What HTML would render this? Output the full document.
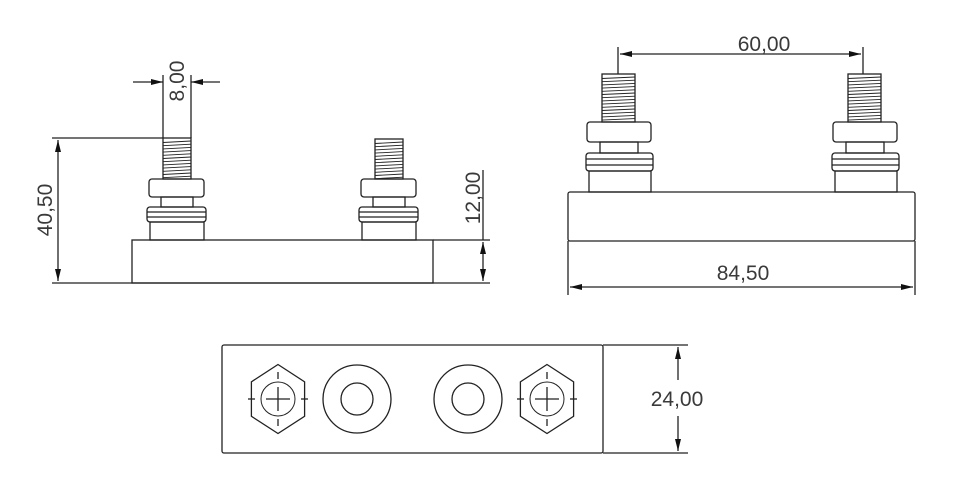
<!DOCTYPE html>
<html><head><meta charset="utf-8"><style>
html,body{margin:0;padding:0;background:#fff;}
svg{display:block;}
text{font-family:"Liberation Sans",sans-serif;font-size:21px;fill:#3a3a3a;}
</style></head><body>
<svg id="s" width="980" height="496" viewBox="0 0 980 496" xmlns="http://www.w3.org/2000/svg">
<defs>
<marker id="a" viewBox="0 0 12 6" refX="12" refY="3" markerWidth="12" markerHeight="6" orient="auto-start-reverse" markerUnits="userSpaceOnUse"><path d="M0,0 L12,3 L0,6 z" fill="#111"/></marker>
</defs>
<g fill="none" stroke="#222" stroke-width="1.3" id="g">
<rect x="132" y="240" width="301" height="43"/>
<line x1="52" y1="138" x2="163" y2="138"/>
<line x1="52" y1="283" x2="490" y2="283"/>
<line x1="58" y1="140" x2="58" y2="281" marker-start="url(#a)" marker-end="url(#a)"/>
<line x1="163" y1="75" x2="163" y2="138"/>
<line x1="191" y1="75" x2="191" y2="138"/>
<line x1="133" y1="82" x2="163" y2="82" marker-end="url(#a)"/>
<line x1="220" y1="82" x2="191" y2="82" marker-end="url(#a)"/>
<line x1="433" y1="240" x2="490" y2="240"/>
<line x1="483" y1="170" x2="483" y2="240"/>
<line x1="483" y1="242" x2="483" y2="281" marker-start="url(#a)" marker-end="url(#a)"/>
<rect x="568" y="192" width="347" height="49" rx="2"/>
<line x1="618" y1="47" x2="618" y2="74"/>
<line x1="863" y1="47" x2="863" y2="74"/>
<line x1="620" y1="54" x2="861" y2="54" marker-start="url(#a)" marker-end="url(#a)"/>
<line x1="568" y1="241" x2="568" y2="295"/>
<line x1="915" y1="241" x2="915" y2="295"/>
<line x1="570" y1="287" x2="913" y2="287" marker-start="url(#a)" marker-end="url(#a)"/>
<rect x="222" y="345" width="381" height="108" rx="2"/>
<line x1="603" y1="345" x2="688" y2="345"/>
<line x1="603" y1="453" x2="688" y2="453"/>
<line x1="678" y1="347" x2="678" y2="380" marker-start="url(#a)"/>
<line x1="678" y1="416" x2="678" y2="451" marker-end="url(#a)"/>
<circle cx="357" cy="399" r="34"/><circle cx="357" cy="399" r="16"/>
<circle cx="468" cy="399" r="34"/><circle cx="468" cy="399" r="16"/>
</g>
<text x="0" y="0" transform="translate(52,210) rotate(-90)" text-anchor="middle">40,50</text>
<text x="0" y="0" transform="translate(184,81) rotate(-90)" text-anchor="middle">8,00</text>
<text x="0" y="0" transform="translate(480,198) rotate(-90)" text-anchor="middle">12,00</text>
<text x="764" y="51" text-anchor="middle">60,00</text>
<text x="743" y="280" text-anchor="middle">84,50</text>
<text x="677" y="406" text-anchor="middle">24,00</text>
</svg>
<script>
var g=document.getElementById('g'),NS='http://www.w3.org/2000/svg';
function el(t,a){var e=document.createElementNS(NS,t);for(var k in a)e.setAttribute(k,a[k]);g.appendChild(e);return e;}
function post(tx0,tx1,ty0,ty1,nx0,nx1,ny1,kx0,kx1,ky1,wx0,wx1,wy1,l1,l2,bx0,bx1,by1){
 el('rect',{x:tx0,y:ty0,width:tx1-tx0,height:ty1-ty0});
 for(var y=ty0+3;y<ty1-1;y+=3.2)el('line',{x1:tx0,y1:y+1.5,x2:tx1,y2:y,'stroke-width':0.9});
 el('rect',{x:nx0,y:ty1,width:nx1-nx0,height:ny1-ty1,rx:3});
 el('rect',{x:kx0,y:ny1,width:kx1-kx0,height:ky1-ny1});
 el('rect',{x:wx0,y:ky1,width:wx1-wx0,height:wy1-ky1,rx:3});
 el('line',{x1:wx0,y1:l1,x2:wx1,y2:l1});el('line',{x1:wx0,y1:l2,x2:wx1,y2:l2});
 el('rect',{x:bx0,y:wy1,width:bx1-bx0,height:by1-wy1});
}
[0,212].forEach(function(d){post(163+d,191+d,138+(d?1:0),179,149+d,204+d,197,161+d,193+d,207,147+d,206+d,222,212,217,150+d,204+d,240);});
[0,246].forEach(function(d){post(602+d,635+d,74,122,587+d,651+d,142,600+d,638+d,153,586+d,653+d,171,159,165,589+d,651+d,192);});
function hex(cx,cy){
 var p=[];for(var i=0;i<6;i++){var a=Math.PI/3*i-Math.PI/2;p.push((cx+34.5*Math.cos(a)*0.89).toFixed(1)+','+(cy+34.5*Math.sin(a)).toFixed(1));}
 el('polygon',{points:p.join(' ')});
 el('circle',{cx:cx,cy:cy,r:17,'stroke-width':1});
 el('line',{x1:cx-12,y1:cy,x2:cx+12,y2:cy});el('line',{x1:cx,y1:cy-12,x2:cx,y2:cy+12});
 el('line',{x1:cx,y1:cy-27,x2:cx,y2:cy-20});el('line',{x1:cx,y1:cy+20,x2:cx,y2:cy+27});
 el('line',{x1:cx-30,y1:cy,x2:cx-23,y2:cy});el('line',{x1:cx+23,y1:cy,x2:cx+30,y2:cy});
}
hex(278,399);hex(547,399);
</script>
</body></html>
